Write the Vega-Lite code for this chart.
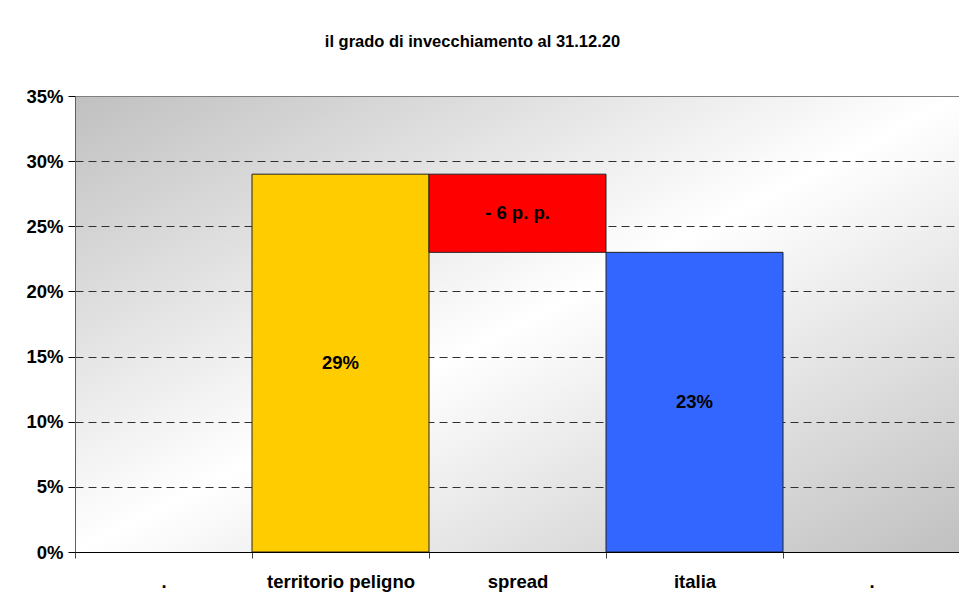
{
  "$schema": "https://vega.github.io/schema/vega-lite/v6.json",
  "width": 885,
  "height": 456,
  "autosize": {"type": "none"},
  "padding": {"left": 75, "top": 96, "right": 0, "bottom": 49},
  "background": "white",
  "title": {
    "text": "il grado di invecchiamento al 31.12.20",
    "font": "Liberation Sans",
    "fontSize": 16.5,
    "fontWeight": "bold",
    "color": "black",
    "anchor": "middle",
    "dx": -45,
    "baseline": "alphabetic",
    "offset": 24
  },
  "config": {
    "font": "Liberation Sans",
    "view": {
      "stroke": "#808080",
      "strokeWidth": 1,
      "fill": {
        "gradient": "linear",
        "x1": 0, "y1": 0, "x2": 1, "y2": 1,
        "stops": [
          {"offset": 0, "color": "#c0c0c0"},
          {"offset": 0.5, "color": "#ffffff"},
          {"offset": 1, "color": "#c0c0c0"}
        ]
      }
    }
  },
  "data": {
    "values": [
      {"categoria": "territorio peligno", "da": 0, "a": 0.29, "etichetta": "29%", "serie": "territorio peligno"},
      {"categoria": "spread", "da": 0.23, "a": 0.29, "etichetta": "- 6 p. p.", "serie": "spread"},
      {"categoria": "italia", "da": 0, "a": 0.23, "etichetta": "23%", "serie": "italia"}
    ]
  },
  "transform": [{"calculate": "(datum.da + datum.a) / 2", "as": "centro"}],
  "encoding": {
    "x": {
      "field": "categoria",
      "type": "nominal",
      "sort": null,
      "scale": {"domain": [".", "territorio peligno", "spread", "italia", ". "], "paddingInner": 0, "paddingOuter": 0},
      "axis": {
        "title": null,
        "labelAngle": 0,
        "labelFont": "Liberation Sans",
        "labelFontSize": 18.5,
        "labelFontWeight": "bold",
        "labelColor": "black",
        "labelBaseline": "alphabetic",
        "labelPadding": 29,
        "domainColor": "black",
        "domainWidth": 1,
        "tickColor": "#404040",
        "tickSize": 6,
        "tickBand": "extent",
        "grid": false,
        "zindex": 1
      }
    }
  },
  "layer": [
    {
      "mark": {"type": "bar", "stroke": "#222222", "strokeWidth": 1},
      "encoding": {
        "y": {
          "field": "da",
          "type": "quantitative",
          "scale": {"domain": [0, 0.35], "nice": false},
          "axis": {
            "title": null,
            "format": ".0%",
            "values": [0, 0.05, 0.1, 0.15, 0.2, 0.25, 0.3, 0.35],
            "labelFont": "Liberation Sans",
            "labelFontSize": 18.5,
            "labelFontWeight": "bold",
            "labelColor": "black",
            "labelPadding": 5,
            "tickSize": 7,
            "tickColor": "black",
            "domainColor": "#606060",
            "grid": true,
            "gridColor": "#303030",
            "gridDash": [8, 5],
            "gridWidth": 1,
            "gridOpacity": {"condition": {"test": "datum.value >= 0.35 || datum.value <= 0", "value": 0}, "value": 1}
          }
        },
        "y2": {"field": "a"},
        "color": {
          "field": "serie",
          "type": "nominal",
          "scale": {"domain": ["territorio peligno", "spread", "italia"], "range": ["#FFCC00", "#FF0000", "#3366FF"]},
          "legend": null
        }
      }
    },
    {
      "mark": {"type": "text", "font": "Liberation Sans", "fontSize": 18.5, "fontWeight": "bold", "color": "black", "baseline": "middle", "align": "center"},
      "encoding": {
        "y": {"field": "centro", "type": "quantitative"},
        "text": {"field": "etichetta", "type": "nominal"}
      }
    }
  ]
}
